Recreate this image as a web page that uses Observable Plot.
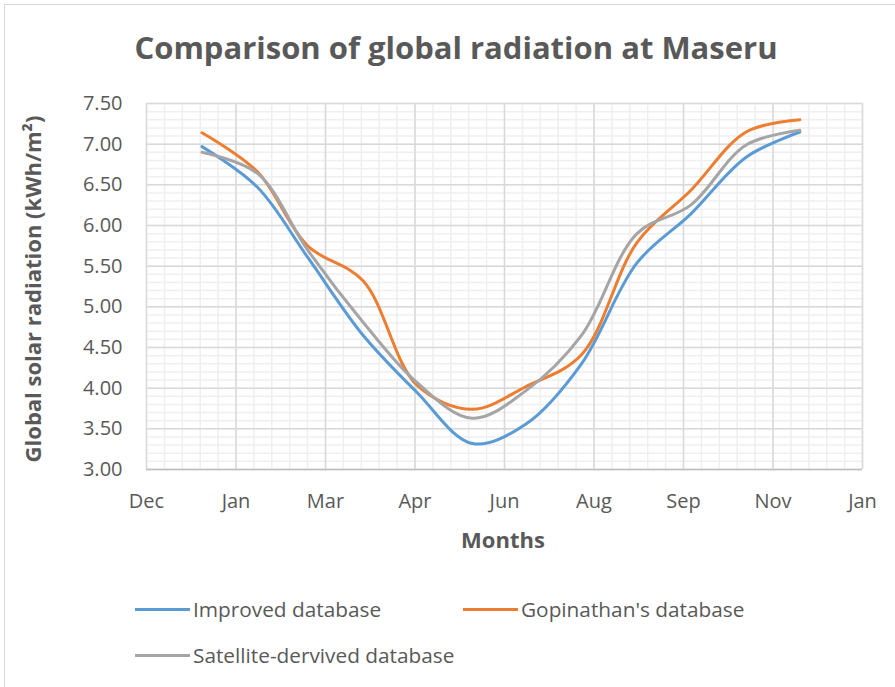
<!DOCTYPE html>
<html>
<head>
<meta charset="utf-8">
<script src="https://cdn.jsdelivr.net/npm/d3@7"></script>
<script src="https://cdn.jsdelivr.net/npm/@observablehq/plot@0.6"></script>
<style>
  html, body { margin: 0; padding: 0; background: #fff; }
  #wrap { position: relative; width: 895px; height: 687px; overflow: hidden; font-family: "Open Sans", sans-serif; color: #595959; }
  #frame { position: absolute; left: 4px; top: 4px; width: 1000px; height: 1000px; border: 1px solid #d9d9d9; box-sizing: border-box; }
  #title { position: absolute; left: 0; width: 912px; top: 26px; text-align: center; font-size: 31px; font-weight: bold; line-height: 42px; }
  #chart { position: absolute; left: 0; top: 90px; }
  #ytitle { position: absolute; left: 32px; top: 289px; transform: translate(-50%, -50%) rotate(-90deg); white-space: nowrap; font-size: 22px; font-weight: bold; }
  #xtitle { position: absolute; left: 503px; top: 539px; transform: translate(-50%, -50%); font-size: 22px; font-weight: bold; }
  .leg { position: absolute; display: flex; align-items: center; font-size: 20.8px; white-space: nowrap; }
  .sw { width: 55px; height: 3px; margin-right: 3px; }
</style>
</head>
<body>
<div id="wrap">
  <div id="frame"></div>
  <div id="title">Comparison of global radiation at Maseru</div>
  <div id="chart"></div>
  <div id="ytitle">Global solar radiation (kWh/m²)</div>
  <div id="xtitle">Months</div>
  <div id="legend"></div>
</div>
<script>
// ---- data ----
const months = ["2001-01-01","2001-02-01","2001-03-01","2001-04-01","2001-05-01","2001-06-01",
                "2001-07-01","2001-08-01","2001-09-01","2001-10-01","2001-11-01","2001-12-01"];
const improved   = [6.97, 6.47, 5.61, 4.65, 3.95, 3.32, 3.56, 4.30, 5.54, 6.14, 6.84, 7.15];
const gopinathan = [7.14, 6.66, 5.75, 5.32, 4.04, 3.74, 4.02, 4.41, 5.79, 6.43, 7.15, 7.30];
const satellite  = [6.90, 6.64, 5.70, 4.81, 4.07, 3.63, 3.97, 4.65, 5.90, 6.25, 6.99, 7.17];
const seriesNames  = ["Improved database", "Gopinathan's database", "Satellite-dervived database"];
const seriesColors = ["#5b9bd5", "#ed7d31", "#a5a5a5"];
const yTicks = [3.00, 3.50, 4.00, 4.50, 5.00, 5.50, 6.00, 6.50, 7.00, 7.50];
const xTickLabels = ["Dec", "Jan", "Mar", "Apr", "Jun", "Aug", "Sep", "Nov", "Jan"];
const xStart = "2000-12-01";
const xMajorDays = 50;

// ---- build ----
const start = new Date(xStart + "T00:00:00Z");
const xMajor = xTickLabels.map((_, i) => d3.utcDay.offset(start, i * xMajorDays));
const xEnd = xMajor[xMajor.length - 1];
const xMinor = d3.range(0, (xTickLabels.length - 1) * xMajorDays + 1, xMajorDays / 5).map(d => d3.utcDay.offset(start, d));
const yMinor = d3.range(30, 76).map(d => d / 10);

const allSeries = [improved, gopinathan, satellite];
const rows = [];
allSeries.forEach((vals, s) => vals.forEach((v, i) => rows.push({
  date: new Date(months[i] + "T00:00:00Z"), value: v, series: seriesNames[s]
})));

const chart = Plot.plot({
  width: 895,
  height: 470,
  marginLeft: 146,
  marginRight: 33,
  marginTop: 13,
  marginBottom: 91,
  style: { fontFamily: "'Open Sans', sans-serif", color: "#595959", background: "transparent" },
  x: { type: "utc", domain: [start, xEnd] },
  y: { domain: [3, 7.5] },
  color: { domain: seriesNames, range: seriesColors },
  marks: [
    Plot.ruleX(xMinor, { stroke: "#efefef", strokeWidth: 1.5 }),
    Plot.ruleY(yMinor, { stroke: "#efefef", strokeWidth: 1.5 }),
    Plot.ruleX(xMajor, { stroke: "#d9d9d9", strokeWidth: 1.5 }),
    Plot.ruleY(yTicks, { stroke: "#d9d9d9", strokeWidth: 1.5 }),
    Plot.ruleY([3], { stroke: "#bfbfbf", strokeWidth: 1.5 }),
    Plot.line(rows, { x: "date", y: "value", z: "series", stroke: "series", strokeWidth: 3, curve: "catmull-rom", strokeLinecap: "round" }),
    Plot.axisX(xMajor, { tickSize: 0, tickPadding: 24, fontSize: 20, label: null,
      tickFormat: (d, i) => xTickLabels[i] }),
    Plot.axisY(yTicks, { tickSize: 0, tickPadding: 24, fontSize: 20, label: null,
      tickFormat: d3.format(".2f") })
  ]
});
document.getElementById("chart").appendChild(chart);

// ---- legend ----
const legendPos = [[135, 610], [463, 610], [135, 656]];
const legend = document.getElementById("legend");
seriesNames.forEach((name, i) => {
  const el = document.createElement("div");
  el.className = "leg";
  el.style.left = legendPos[i][0] + "px";
  el.style.top = (legendPos[i][1] - 15) + "px";
  el.innerHTML = `<span class="sw" style="background:${seriesColors[i]}"></span><span>${name}</span>`;
  legend.appendChild(el);
});
</script>
</body>
</html>
